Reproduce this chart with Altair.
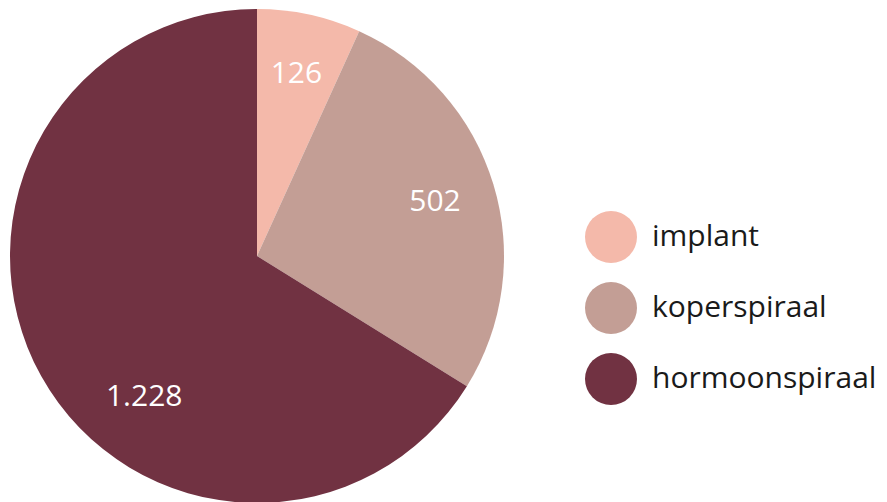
import altair as alt
import pandas as pd

categories = ["implant", "koperspiraal", "hormoonspiraal"]
values = [126, 502, 1228]
labels = ["126", "502", "1.228"]
colors = ["#F4B9AA", "#C39E95", "#713242"]

df = pd.DataFrame({"cat": categories, "value": values, "label": labels, "idx": [0, 1, 2]})

FONT = "Open Sans"
CX, CY = 249, 248

base = alt.Chart(df).encode(
    theta=alt.Theta("value:Q", stack=True),
    order=alt.Order("idx:Q"),
)

pie = base.mark_arc(radius=247, x=CX, y=CY, stroke=None).encode(
    color=alt.Color(
        "cat:N",
        scale=alt.Scale(domain=categories, range=colors),
        sort=categories,
        legend=alt.Legend(
            title=None,
            orient="none",
            legendX=577,
            legendY=203,
            symbolType="circle",
            symbolSize=2704,
            symbolStrokeWidth=0,
            symbolOpacity=1,
            labelFont=FONT,
            labelFontSize=30,
            labelColor="#1a1a1a",
            labelOffset=15,
            rowPadding=19,
            labelLimit=400,
        ),
    )
)

text_small = base.mark_text(
    radius=186, x=CX, y=CY, font=FONT, fontSize=30, color="white"
).encode(
    text=alt.condition("datum.idx < 2", alt.Text("label:N"), alt.value(""))
)

text_big = base.mark_text(
    radius=184, x=CX, y=CY, dx=48, dy=52, font=FONT, fontSize=30, color="white"
).encode(
    text=alt.condition("datum.idx == 2", alt.Text("label:N"), alt.value(""))
)

chart = (
    alt.layer(pie, text_small, text_big)
    .properties(width=871, height=494, autosize=alt.AutoSizeParams(type="none"), padding=0)
    .configure_view(stroke=None)
)

chart.save("out.html", embed_options={"renderer": "svg", "actions": False})
